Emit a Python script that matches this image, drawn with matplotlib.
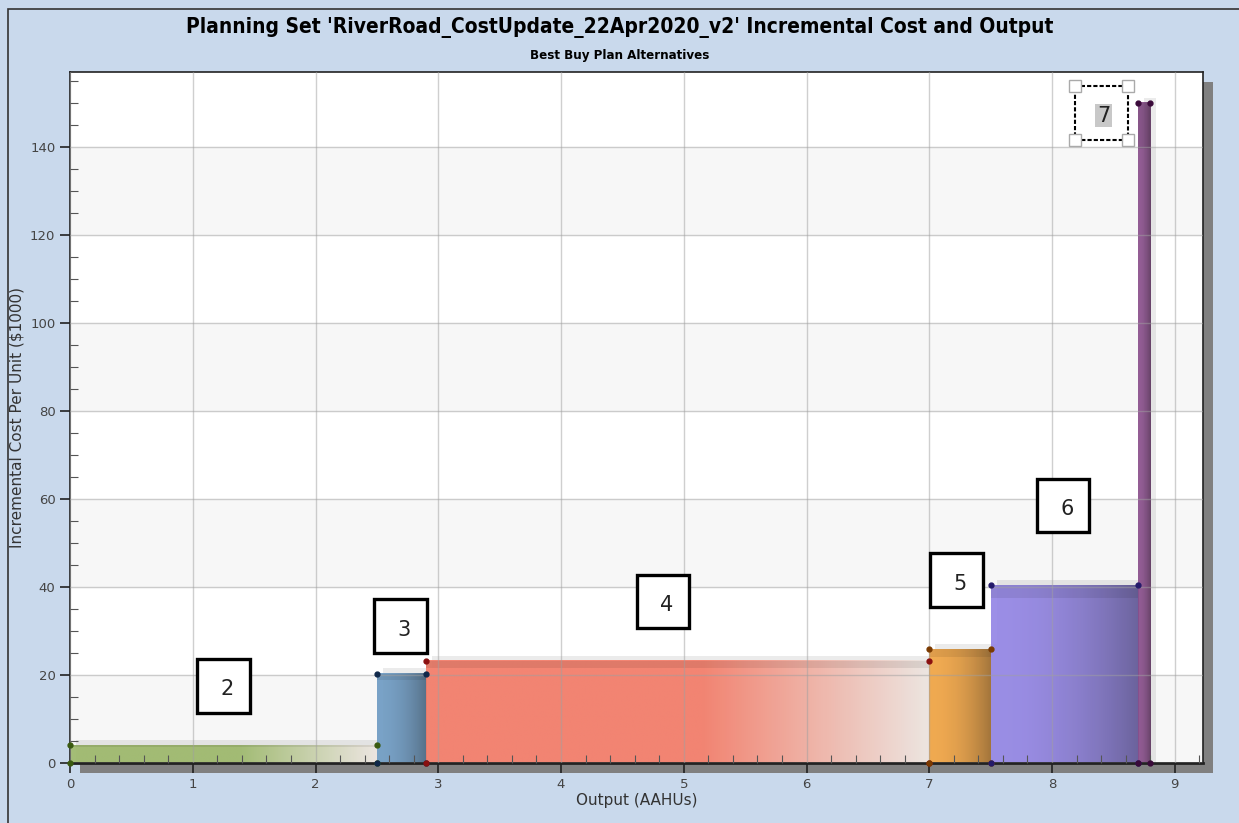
import numpy as np
import matplotlib.pyplot as plt
from matplotlib.patches import Rectangle
from matplotlib.colors import to_rgb
from matplotlib.ticker import MultipleLocator

# best buy plans: output range and incremental cost per unit
plans = ['2', '3', '4', '5', '6', '7']
x_start = [0.0, 2.5, 2.9, 7.0, 7.5, 8.7]
x_end = [2.5, 2.9, 7.0, 7.5, 8.7, 8.8]
cost = [4.0, 20.3, 23.2, 25.8, 40.4, 150.0]
colors = ['#9cb86a', '#6f9cc4', '#f47c68', '#f2a544', '#9486e6', '#8a4f8c']
dot_colors = ['#3a5a10', '#10284a', '#8a1010', '#7a3a00', '#241a6a', '#3a0a3a']
# label box centres (data units)
label_x = [1.25, 2.695, 4.83, 7.22, 8.09, 8.40]
label_y = [17.5, 31.1, 36.7, 41.5, 58.5, 147.7]

bg = '#c9d9ec'
fig = plt.figure(figsize=(12.39, 8.23), dpi=100, facecolor=bg)
W, H = 1239, 823
ax = fig.add_axes([70 / W, 1 - 763 / H, (1203 - 70) / W, (763 - 72) / H])
ax.set_zorder(2)

# drop shadow behind the plot frame
fig.patches.append(Rectangle((80 / W, 1 - 773 / H), (1203 - 70) / W, (763 - 72) / H,
                             transform=fig.transFigure, facecolor='#808080',
                             edgecolor='none', zorder=-1))
# outer border
fig.patches.append(Rectangle((8 / W, -0.05), 1.2, 1 - 9 / H + 0.05,
                             transform=fig.transFigure, facecolor='none',
                             edgecolor='#333333', lw=1.2, zorder=-1))

xmax, ymax = 9.23, 157
ax.set_xlim(0, xmax)
ax.set_ylim(0, ymax)

# alternating horizontal bands
for y0 in range(0, 160, 40):
    ax.axhspan(y0, y0 + 20, color='#f7f7f7', zorder=0)
ax.set_facecolor('white')
ax.grid(True, which='major', color='#a0a0a0', alpha=0.5, lw=1)
ax.set_axisbelow(False)

for i in range(len(plans)):
    x0, x1, h = x_start[i], x_end[i], cost[i]
    base = np.array(to_rgb(colors[i]))
    # soft shadow of each bar
    ax.add_patch(Rectangle((x0 + 0.05, 0), x1 - x0, h + 1.2, facecolor='#000000',
                           alpha=0.08, edgecolor='none', zorder=1))
    t = np.linspace(0, 1, 200)
    if plans[i] in ('2', '4'):
        w = np.clip((t - 0.55) / 0.45, 0, 1)[:, None]
        grad = base * (1 - w) + np.array([0.93, 0.9, 0.88]) * w
    else:
        grad = base * (1 - 0.35 * t[:, None] ** 2)
    img = np.tile(grad[None, :, :], (2, 1, 1))
    ax.imshow(img, extent=[x0, x1, 0, h], aspect='auto', origin='lower',
              interpolation='bilinear', zorder=2, alpha=0.92)
    # darker top strip
    ax.add_patch(Rectangle((x0, h * 0.93), x1 - x0, h * 0.07, facecolor='black',
                           alpha=0.08, edgecolor='none', zorder=2.1))
    ax.plot([x0, x1, x0, x1], [h, h, 0, 0], 'o', ms=3.5, color=dot_colors[i],
            zorder=4, clip_on=False)

bw, bh = 0.43, 12.2
for i in range(len(plans)):
    cx, cy = label_x[i], label_y[i]
    if plans[i] == '7':
        ax.text(cx + 0.02, cy - 0.6, plans[i], fontsize=15, ha='center', va='center',
                zorder=6, color='#222222',
                bbox=dict(boxstyle='square,pad=0.08', fc='#c8c8c8', ec='none'))
        ax.add_patch(Rectangle((cx - bw / 2, cy - bh / 2), bw, bh, fc='white',
                               ec='black', lw=1.5, ls=(0, (2, 1)), zorder=5))
        for hx in (cx - bw / 2, cx + bw / 2):
            for hy in (cy - bh / 2, cy + bh / 2):
                ax.plot(hx, hy, 's', ms=9, mfc='white', mec='#aaaaaa', zorder=6)
    else:
        ax.add_patch(Rectangle((cx - bw / 2, cy - bh / 2), bw, bh, fc='white',
                               ec='black', lw=2.4, zorder=5))
        ax.text(cx + 0.03, cy - 0.8, plans[i], fontsize=15, ha='center', va='center',
                zorder=6, color='#222222')

ax.xaxis.set_major_locator(MultipleLocator(1))
ax.xaxis.set_minor_locator(MultipleLocator(0.2))
ax.yaxis.set_major_locator(MultipleLocator(20))
ax.yaxis.set_minor_locator(MultipleLocator(5))
ax.tick_params(which='major', direction='out', length=7, width=1.2, colors='#222222',
               labelsize=9.5, labelcolor='#444444')
ax.tick_params(which='minor', direction='in', length=6, width=0.8, colors='#555555')
for s in ax.spines.values():
    s.set_color('#222222')
    s.set_linewidth(1.2)
ax.spines['bottom'].set_linewidth(2)

ax.set_xlabel('Output (AAHUs)', fontsize=11, color='#333333', labelpad=2)
ax.set_ylabel('Incremental Cost Per Unit ($1000)', fontsize=11, color='#333333', labelpad=4)

fig.text(620 / W, 1 - 27 / H, "Planning Set 'RiverRoad_CostUpdate_22Apr2020_v2' Incremental Cost and Output",
         ha='center', va='center', fontsize=15, fontweight='bold', fontstretch='condensed')
fig.text(620 / W, 1 - 55 / H, 'Best Buy Plan Alternatives', ha='center', va='center',
         fontsize=9.5, fontweight='bold', fontstretch='condensed')

fig.savefig('out.png', dpi=100, facecolor=bg)
